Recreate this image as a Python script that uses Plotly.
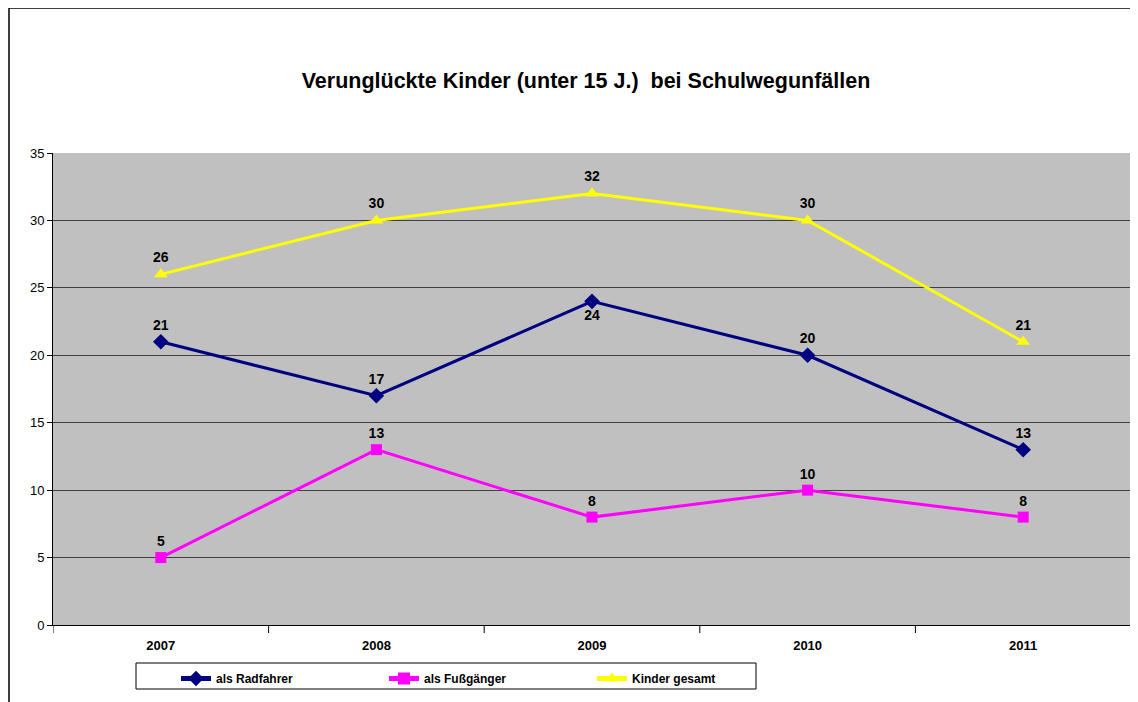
import plotly.graph_objects as go

years = ["2007", "2008", "2009", "2010", "2011"]
radfahrer = [21, 17, 24, 20, 13]
fussgaenger = [5, 13, 8, 10, 8]
gesamt = [26, 30, 32, 30, 21]
y_ticks = [0, 5, 10, 15, 20, 25, 30, 35]

OFF = 8  # page body margin
W, H = 1138 - OFF, 702 - OFF
# plot area in screen pixels
L, R, T, B = 53, 1131, 153, 625
pw, ph = R - L, B - T

def px(x):
    return (x - L) / pw

def py(y):
    return (B - y) / ph

fig = go.Figure()

series = [
    ("als Radfahrer", radfahrer, "#000080", "diamond", 12),
    ("als Fußgänger", fussgaenger, "#FF00FF", "square", 11),
    ("Kinder gesamt", gesamt, "#FFFF00", "triangle-up", 12),
]
for name, vals, col, sym, size in series:
    if name == "als Radfahrer":
        pos = ["top center", "top center", "bottom center", "top center", "top center"]
    else:
        pos = "top center"
    fig.add_trace(go.Scatter(
        x=years, y=vals, name=name, mode="lines+markers+text",
        line=dict(color=col, width=3),
        marker=dict(color=col, symbol=sym, size=size),
        text=[str(v) for v in vals], textposition=pos,
        textfont=dict(family="Liberation Sans, Arial", size=14, color="black", weight="bold"),
        cliponaxis=False,
    ))

fig.update_layout(
    width=W, height=H,
    margin=dict(l=L - OFF, r=W - (R - OFF), t=T - OFF, b=H - (B - OFF)),
    paper_bgcolor="white", plot_bgcolor="#C0C0C0",
    font=dict(family="Liberation Sans, Arial", color="black"),
    title=dict(text="<b>Verunglückte Kinder (unter 15 J.)  bei Schulwegunfällen</b>",
               x=px(586), xref="paper", xanchor="center",
               y=1 - (80 - OFF) / H, yref="container", yanchor="middle",
               font=dict(size=21.5, color="black")),
    showlegend=True,
    legend=dict(orientation="h", x=px(176), xanchor="left", y=py(664), yanchor="top",
                borderwidth=0, bgcolor="rgba(0,0,0,0)",
                entrywidth=163, entrywidthmode="pixels", itemsizing="constant",
                font=dict(size=12, weight="bold"),
                tracegroupgap=0),
    xaxis=dict(type="category", showgrid=False, showline=True, linecolor="black", linewidth=1,
               ticks="", tickfont=dict(size=13, weight="bold"),
               range=[-0.5, 4.5], fixedrange=True, ticklabelstandoff=8),
    yaxis=dict(range=[0, 35], tickvals=y_ticks, showgrid=True, gridcolor="#404040", gridwidth=1,
               showline=True, linecolor="black", linewidth=1, ticks="outside", ticklen=5,
               tickcolor="black", tickfont=dict(size=13), zeroline=False),
)

# category boundary tick marks
for i in range(6):
    fig.add_shape(type="line", xref="x", yref="paper", x0=i - 0.5, x1=i - 0.5,
                  y0=0, y1=-8 / ph, line=dict(color="black", width=1))

# plot area right border
fig.add_shape(type="line", xref="paper", yref="paper", x0=1, x1=1, y0=0, y1=1,
              line=dict(color="#808080", width=1))

# legend box
fig.add_shape(type="rect", xref="paper", yref="paper",
              x0=px(136), x1=px(756), y0=py(689), y1=py(663),
              line=dict(color="black", width=1), fillcolor="white", layer="below")

# outer chart border
fig.add_shape(type="rect", xref="paper", yref="paper",
              x0=px(9), x1=px(1160), y0=py(730), y1=py(8),
              line=dict(color="black", width=1.5), layer="below")

fig.write_html("out.html")
